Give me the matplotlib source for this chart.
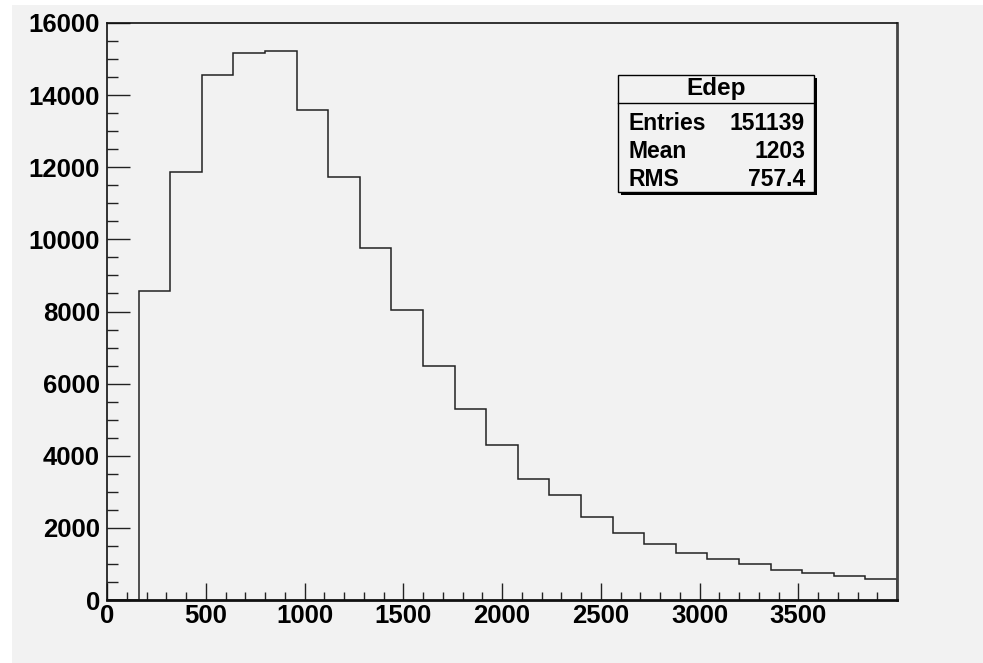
import matplotlib
matplotlib.use("Agg")
import matplotlib.pyplot as plt
from matplotlib.patches import Rectangle
import numpy as np

# histogram "Edep": 25 bins of width 160 from 0 to 4000
bin_edges = np.arange(0, 4001, 160)
counts = [0, 8580, 11860, 14550, 15160, 15220, 13580, 11720, 9750, 8040,
          6490, 5310, 4290, 3360, 2900, 2290, 1850, 1560, 1300, 1130,
          1000, 835, 750, 665, 585]

stats_title = "Edep"
stats_names = ["Entries", "Mean", "RMS"]
stats_values = ["151139", "1203", "757.4"]

x_major = list(range(0, 3501, 500))
y_major = list(range(0, 16001, 2000))

W, H = 983, 663
bg = "#f2f2f2"
font = ["Liberation Sans", "DejaVu Sans"]

def fx(px):
    return px / W

def fy(py):
    return 1 - py / H

fig = plt.figure(figsize=(W / 100, H / 100), dpi=100, facecolor="white")
fig.patches.append(Rectangle((fx(12), 0), 1, fy(5), transform=fig.transFigure,
                             facecolor=bg, edgecolor="none", zorder=-10))

ax = fig.add_axes([fx(107), fy(600), fx(897) - fx(107), fy(23) - fy(600)])
ax.set_facecolor(bg)
ax.stairs(counts, bin_edges, color="#222222", linewidth=1.1, baseline=0)

ax.set_xlim(0, 4000)
ax.set_ylim(0, 16000)
ax.set_xticks(x_major)
ax.set_xticks(np.arange(0, 4000, 100), minor=True)
ax.set_yticks(y_major)
ax.set_yticks(np.arange(0, 16001, 500), minor=True)

ax.tick_params(axis="both", which="both", direction="in", width=1.0,
               top=False, right=False, labelsize=18.5, color="#222222")
ax.tick_params(axis="y", which="major", length=16.5, pad=5)
ax.tick_params(axis="y", which="minor", length=8)
ax.tick_params(axis="x", which="major", length=12, pad=3)
ax.tick_params(axis="x", which="minor", length=6)
for lab in ax.get_xticklabels() + ax.get_yticklabels():
    lab.set_fontfamily(font)
    lab.set_fontweight("bold")

for side in ["left", "bottom", "top"]:
    ax.spines[side].set_linewidth(1.2)
    ax.spines[side].set_color("#111111")
ax.spines["right"].set_linewidth(2.0)
ax.spines["right"].set_color("#444444")
ax.spines["bottom"].set_linewidth(2.0)

# stats box
bx0, bx1, by0, by1 = 618, 814, 75, 192
fig.patches.append(Rectangle((fx(bx0 + 3), fy(by1 + 3)), fx(bx1) - fx(bx0), fy(by0) - fy(by1),
                             transform=fig.transFigure, facecolor="black", edgecolor="none", zorder=5))
fig.patches.append(Rectangle((fx(bx0), fy(by1)), fx(bx1) - fx(bx0), fy(by0) - fy(by1),
                             transform=fig.transFigure, facecolor=bg, edgecolor="black",
                             linewidth=1.0, zorder=6))
fig.lines.append(plt.Line2D([fx(bx0), fx(bx1)], [fy(103), fy(103)], transform=fig.transFigure,
                            color="black", linewidth=1.0, zorder=7))
fig.text(fx((bx0 + bx1) / 2), fy(89), stats_title, ha="center", va="center",
         fontsize=17.5, fontweight="bold", family=font, zorder=8)
for i, (name, val) in enumerate(zip(stats_names, stats_values)):
    yy = fy(123 + i * 28.5)
    fig.text(fx(628), yy, name, ha="left", va="center", fontsize=16.5,
             fontweight="bold", family=font, zorder=8)
    fig.text(fx(805), yy, val, ha="right", va="center", fontsize=16.5,
             fontweight="bold", family=font, zorder=8)

fig.savefig("out.png", dpi=100, facecolor="white")
